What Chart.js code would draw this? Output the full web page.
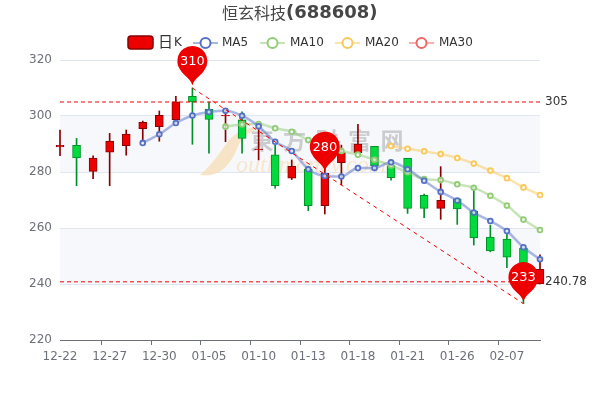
<!DOCTYPE html>
<html><head><meta charset="utf-8">
<style>html,body{margin:0;padding:0;background:#fff}#w{width:600px;height:400px;position:relative}</style>
<script src="https://cdn.jsdelivr.net/npm/chart.js@4"></script>
</head><body><div id="w"><canvas id="c" width="600" height="400"></canvas></div>
<script>
const categories=['12-22','12-23','12-26','12-27','12-28','12-29','12-30','12-31','01-04','01-05','01-06','01-07','01-10','01-11','01-12','01-13','01-14','01-17','01-18','01-19','01-20','01-21','01-24','01-25','01-26','01-27','01-28','02-07','02-08','02-09'];
const tickLabels=['12-22','12-27','12-30','01-05','01-10','01-13','01-18','01-21','01-26','02-07'];
const open =[289,289.5,280.2,287.1,289.4,295.5,296.2,298.7,307,302.4,300,298.6,288,286.1,277.8,281,268,283.3,286.9,289.2,282.3,284.9,271.7,267,270.4,266,256.8,256,252.8,240];
const close=[289.5,285,285,291,293.5,297.7,300.2,305.1,305,298.8,300.2,292,288.2,275.1,282,268,279.5,286.9,290,282.3,278,267,267,269.9,266.8,256.5,251.8,249.6,243,245.2];
const high =[295,292,285.8,293.8,295,298.2,301.8,307,310,305,302,301.5,296.8,289.6,284.3,282.1,281.4,289.6,297,289.2,284.3,284.9,272.1,281.9,270.4,274.8,261,258.1,252.8,250.4];
const low  =[285.8,275.1,277.6,275.1,286,290.8,291,297.5,289.9,286.7,290.8,286.7,284.3,274.2,277.3,266.2,265,275.4,286.9,280.7,277.1,265.2,263.7,263.1,261.3,253.9,251.5,245.8,233,240];
const ma5 =[null,null,null,null,null,290.4,293.5,297.5,300.2,301.4,301.9,300.1,296.3,290.8,287.5,281,278.6,278.4,281.4,281.4,283.5,281,276.9,272.9,269.8,265.5,262.5,258.9,253.1,248.8];
const ma10=[null,null,null,null,null,null,null,null,null,null,296.2,297,297.1,295.6,294.4,291.4,289.8,287.5,286.2,284.4,282.3,279.9,277.5,277.1,275.6,274.4,271.5,268,263,259.3];
const ma20=[null,null,null,null,null,null,null,null,null,null,null,null,null,null,null,null,null,null,null,null,289.3,288.3,287.4,286.4,285,283,280.5,277.8,274.5,271.8];
const ma30=categories.map(()=>null);
const markValues=[305,240.78];
const markTexts=['305','240.78'];
const trendFrom=[8,310];
const trendTo=[28,233];
const pinIndex=[8,16,28];
const pinValue=[310.9,280.3,233.7];
const pinText=['310','280','233'];
const legendNames=['日','K','MA5','MA10','MA20','MA30'];
const titleMain='恒玄科技';
const titleCode='(688608)';
const watermarkCn=['東','方','财','富','网'];
const watermarkEn='outhmoney.com';

const UP='#ec0000',UPB='#8A0000',DN='#00da3c',DNB='#008F28';
const isUp=i=>close[i]>=open[i];
const FONT='"DejaVu Sans",sans-serif';
const CJK='"Noto Sans CJK SC","DejaVu Sans",sans-serif';

function lineDs(label,data,color,order){
  return {type:'line',label,data,order,borderColor:color+'80',borderWidth:2.5,tension:0.35,cubicInterpolationMode:'monotone',
    pointRadius:2.4,pointBorderWidth:1.8,pointBorderColor:color,pointBackgroundColor:'#ffffffb0',pointHoverRadius:2.4,clip:false,spanGaps:false};
}
function markDs(label,v){
  return {type:'line',label,data:categories.map(()=>v),order:1,borderColor:'#f00000',borderWidth:1,borderDash:[4,3],pointRadius:0,tension:0,clip:false};
}
const trend=categories.map(()=>null);trend[trendFrom[0]]=trendFrom[1];trend[trendTo[0]]=trendTo[1];

const bands={id:'bands',beforeDraw(ch){
  const {ctx,chartArea:a,scales:{y}}=ch;
  ctx.save();
  [[260,240],[300,280]].forEach(b=>{
    const t=y.getPixelForValue(b[0]),m=y.getPixelForValue(b[1]);
    ctx.fillStyle='rgba(210,219,238,0.2)';ctx.fillRect(a.left,t,a.right-a.left,m-t);
  });
  ctx.restore();
},beforeDatasetsDraw(ch){
  const {ctx}=ch;
  ctx.save();
  ctx.fillStyle='rgba(248,222,184,0.8)';
  ctx.beginPath();ctx.moveTo(200,175);
  ctx.bezierCurveTo(212,165,220,152,227,143);
  ctx.bezierCurveTo(234,132,248,126,264,127);
  ctx.bezierCurveTo(250,131,243,136,238,146);
  ctx.bezierCurveTo(232,162,222,178,200,175);
  ctx.fill();
  ctx.font='italic 24px "Liberation Serif",serif';ctx.textAlign='left';ctx.textBaseline='alphabetic';
  ctx.fillStyle='rgba(248,222,184,0.7)';
  ctx.fillText(watermarkEn,236,172);
  ctx.font='bold 23px '+CJK;ctx.textAlign='center';ctx.textBaseline='middle';
  ctx.fillStyle='rgba(150,150,150,0.45)';
  watermarkCn.forEach((t,i)=>ctx.fillText(t,262+i*32.5,140));
  ctx.restore();
}};

const overlay={id:'overlay',afterDatasetsDraw(ch){
  const {ctx,chartArea:a,scales:{x,y}}=ch;
  ctx.save();
  ctx.fillStyle='#333';ctx.font='12px '+FONT;ctx.textAlign='left';ctx.textBaseline='middle';
  markValues.forEach((v,i)=>ctx.fillText(markTexts[i],a.right+5,y.getPixelForValue(v)));
  pinIndex.forEach((idx,i)=>{
    const px=x.getPixelForValue(idx),tip=y.getPixelForValue(pinValue[i]),r=15,cy=tip-24.5;
    ctx.fillStyle='#ec0000';ctx.beginPath();
    ctx.arc(px,cy,r,Math.PI*0.80,Math.PI*0.20);
    ctx.bezierCurveTo(px+10,cy+14,px+2,cy+17,px,tip);
    ctx.bezierCurveTo(px-2,cy+17,px-10,cy+14,px+r*Math.cos(Math.PI*0.80),cy+r*Math.sin(Math.PI*0.80));
    ctx.closePath();ctx.fill();
    ctx.fillStyle='#fff';ctx.font='13px '+FONT;ctx.textAlign='center';ctx.textBaseline='middle';
    ctx.fillText(pinText[i],px,cy+0.5);
  });
  ctx.textBaseline='middle';ctx.textAlign='left';ctx.fillStyle='#464646';
  ctx.font='16px '+CJK;ctx.fillText(titleMain,222,13);
  ctx.font='bold 18px '+FONT;ctx.fillText(titleCode,286,13);
  ctx.fillStyle=UP;ctx.strokeStyle=UPB;ctx.lineWidth=1.5;
  ctx.beginPath();ctx.roundRect(128,36,25,13,3);ctx.fill();ctx.stroke();
  ctx.fillStyle='#333';ctx.font='15px '+CJK;ctx.fillText(legendNames[0],158,41);
  ctx.font='12px '+FONT;ctx.fillText(legendNames[1],174,43);
  [[193,'#5470c6',legendNames[2],222],[260,'#91cc75',legendNames[3],290],[335,'#fac858',legendNames[4],365],[409,'#ee6666',legendNames[5],439]].forEach(l=>{
    ctx.strokeStyle=l[1]+'80';ctx.lineWidth=2;ctx.beginPath();ctx.moveTo(l[0],43);ctx.lineTo(l[0]+25,43);ctx.stroke();
    ctx.strokeStyle=l[1];ctx.fillStyle='#fff';ctx.beginPath();ctx.arc(l[0]+12.5,43,5,0,Math.PI*2);ctx.fill();ctx.stroke();
    ctx.fillStyle='#333';ctx.font='12px '+FONT;ctx.fillText(l[2],l[3],43);
  });
  ctx.restore();
}};

new Chart(document.getElementById('c'),{
  data:{labels:categories,datasets:[
    {type:'bar',label:'wick',data:categories.map((_,i)=>[low[i],high[i]]),backgroundColor:categories.map((_,i)=>isUp(i)?UPB:DNB),barThickness:1,order:10,grouped:false,clip:false},
    {type:'bar',label:'body',data:categories.map((_,i)=>[open[i],close[i]]),backgroundColor:categories.map((_,i)=>isUp(i)?UP:DN),borderColor:categories.map((_,i)=>isUp(i)?UPB:DNB),borderWidth:1,borderSkipped:false,barThickness:8,order:9,grouped:false,clip:false},
    lineDs('MA5',ma5,'#5470c6',5),
    lineDs('MA10',ma10,'#91cc75',6),
    lineDs('MA20',ma20,'#fac858',7),
    lineDs('MA30',ma30,'#ee6666',8),
    markDs('mark305',markValues[0]),
    markDs('mark240',markValues[1]),
    {type:'line',label:'trend',data:trend,spanGaps:true,order:1,borderColor:'#f00000',borderWidth:1,borderDash:[4,4],pointRadius:0,tension:0,clip:false}
  ]},
  options:{responsive:false,animation:false,devicePixelRatio:1,
    layout:{padding:{left:0,right:60,top:60,bottom:0}},
    plugins:{legend:{display:false},title:{display:false},tooltip:{enabled:false}},
    scales:{
      x:{offset:false,
        afterFit(s){s.height=60;},
        grid:{drawOnChartArea:false,drawTicks:true,tickLength:5,tickWidth:1,tickColor(c){return tickLabels.includes(categories[c.index])?'#6E7079':'rgba(0,0,0,0)';}},
        border:{color:'#6E7079'},
        ticks:{color:'#6E7079',font:{size:12,family:'"DejaVu Sans"'},maxRotation:0,autoSkip:false,padding:5,
          callback(v,i){return tickLabels.includes(categories[i])?categories[i]:'';}}},
      y:{min:220,max:320,position:'left',
        afterFit(s){s.width=60;},
        grid:{color:'#E0E6F1',drawTicks:false,tickLength:0},border:{display:false},
        ticks:{stepSize:20,color:'#6E7079',font:{size:12,family:'"DejaVu Sans"'},padding:8}}
    }
  },
  plugins:[bands,overlay]
});
</script></body></html>
